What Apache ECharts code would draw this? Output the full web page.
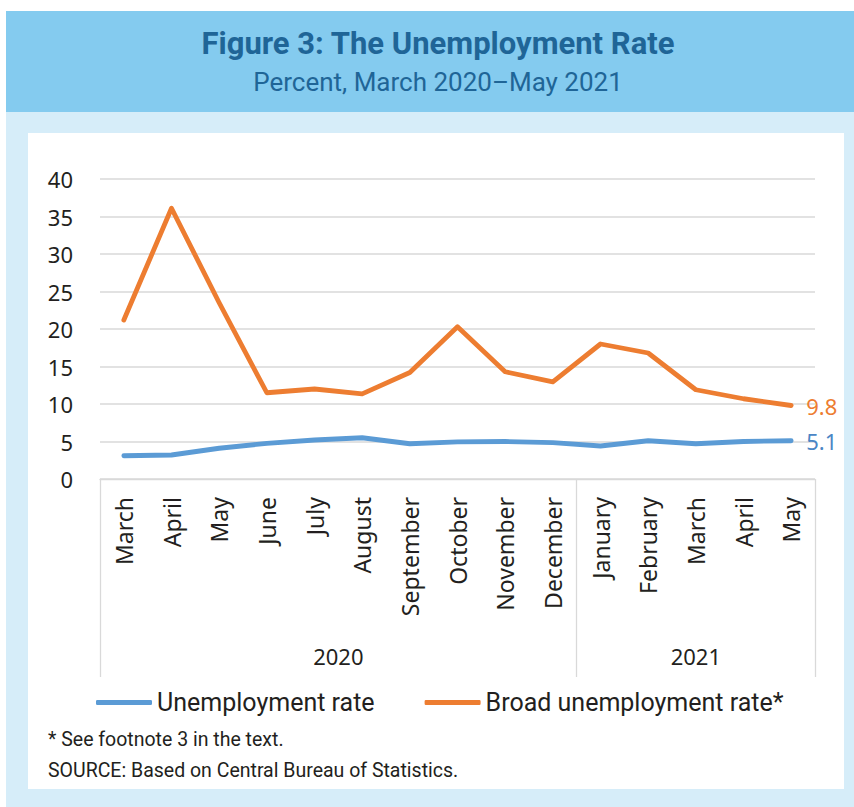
<!DOCTYPE html>
<html>
<head>
<meta charset="utf-8">
<script src="https://cdn.jsdelivr.net/npm/echarts@6/dist/echarts.min.js"></script>
<style>
html,body{margin:0;padding:0;background:#fff;}
#chart{width:854px;height:807px;}
</style>
</head>
<body>
<div id="chart"></div>
<script>
// ---- data ----
const months = ['March','April','May','June','July','August','September','October','November','December','January','February','March','April','May'];
const years = ['2020','2021'];
const yearSpans = [10, 5]; // number of months in each year group
const unemploymentRate = [3.1, 3.2, 4.1, 4.75, 5.2, 5.5, 4.7, 4.95, 5.0, 4.85, 4.4, 5.1, 4.7, 5.0, 5.1];
const broadRate = [21.2, 36.1, 23.5, 11.5, 12.0, 11.35, 14.2, 20.3, 14.3, 12.95, 18.0, 16.8, 11.9, 10.7, 9.8];
const yTicks = [0, 5, 10, 15, 20, 25, 30, 35, 40];
const seriesNames = ['Unemployment rate', 'Broad unemployment rate*'];
const titleText = 'Figure 3: The Unemployment Rate';
const subtitleText = 'Percent, March 2020\u2013May 2021';
const footnote = '* See footnote 3 in the text.';
const sourceText = 'SOURCE: Based on Central Bureau of Statistics.';

// ---- chart ----
const BLUE = '#5B9BD5', ORANGE = '#ED7D31', GRID = '#D9D9D9', TXT = '#231F20', TITLE = '#1F6597';
const chart = echarts.init(document.getElementById('chart'), null, {renderer: 'svg'});

// group boundaries & centres on a 0..N value scale
const bounds = [0];
yearSpans.forEach(s => bounds.push(bounds[bounds.length - 1] + s));
const centres = yearSpans.map((s, i) => bounds[i] + s / 2);

const option = {
  animation: false,
  backgroundColor: '#fff',
  graphic: [
    {type: 'rect', z: -10, shape: {x: 6, y: 11, width: 848, height: 101}, style: {fill: '#84CBEF'}},
    {type: 'rect', z: -10, shape: {x: 6, y: 112, width: 848, height: 695}, style: {fill: '#D6EDF9'}},
    {type: 'rect', z: -9, shape: {x: 28, y: 133, width: 816, height: 656}, style: {fill: '#FFFFFF'}},
    {type: 'text', x: 438, y: 43, style: {text: titleText, fill: TITLE, font: 'bold 31px Roboto', textAlign: 'center', textVerticalAlign: 'middle'}},
    {type: 'text', x: 438, y: 82, style: {text: subtitleText, fill: TITLE, font: '26px Roboto', textAlign: 'center', textVerticalAlign: 'middle'}},
    {type: 'text', left: 48, top: 729, style: {text: footnote, fill: TXT, font: '19.5px Roboto'}},
    {type: 'text', left: 48, top: 760, style: {text: sourceText, fill: TXT, font: '19.5px Roboto'}}
  ],
  legend: {
    left: 91, top: 685,
    itemWidth: 56, itemHeight: 5, itemGap: 50,
    icon: 'roundRect',
    textStyle: {fontFamily: 'Roboto', fontSize: 25, color: TXT},
    data: seriesNames
  },
  grid: {left: 100, right: 39, top: 179, bottom: 328, containLabel: false},
  xAxis: [
    {
      type: 'category', data: months, boundaryGap: true,
      axisLine: {show: true, lineStyle: {color: GRID, width: 1.3}},
      axisTick: {show: false},
      axisLabel: {rotate: 90, margin: 18, fontFamily: 'Noto Sans', fontSize: 23, color: TXT, interval: 0}
    },
    {
      type: 'value', position: 'bottom', min: 0, max: bounds[bounds.length - 1],
      axisLine: {show: false}, splitLine: {show: false},
      axisTick: {show: true, customValues: bounds, length: 198, lineStyle: {color: GRID, width: 1.3}},
      axisLabel: {
        customValues: centres, margin: 166, fontFamily: 'Noto Sans', fontSize: 22, color: TXT,
        formatter: v => { const i = centres.indexOf(v); return i >= 0 ? years[i] : ''; }
      }
    }
  ],
  yAxis: {
    type: 'value', min: yTicks[0], max: yTicks[yTicks.length - 1], interval: yTicks[1] - yTicks[0],
    axisLine: {show: false}, axisTick: {show: false},
    axisLabel: {margin: 27, fontFamily: 'Noto Sans', fontSize: 22, color: TXT},
    splitLine: {lineStyle: {color: GRID, width: 1.5}}
  },
  series: [
    {
      name: seriesNames[0], type: 'line', data: unemploymentRate, xAxisIndex: 0,
      symbol: 'none', color: BLUE,
      lineStyle: {width: 4.8, color: BLUE, cap: 'round', join: 'round'},
      endLabel: {show: true, distance: 15, formatter: p => p.value.toFixed(1), fontFamily: 'Noto Sans', fontSize: 22, color: '#4A86C5'}
    },
    {
      name: seriesNames[1], type: 'line', data: broadRate, xAxisIndex: 0,
      symbol: 'none', color: ORANGE,
      lineStyle: {width: 4.8, color: ORANGE, cap: 'round', join: 'round'},
      endLabel: {show: true, distance: 15, formatter: p => p.value.toFixed(1), fontFamily: 'Noto Sans', fontSize: 22, color: ORANGE}
    }
  ]
};
chart.setOption(option);
</script>
</body>
</html>
